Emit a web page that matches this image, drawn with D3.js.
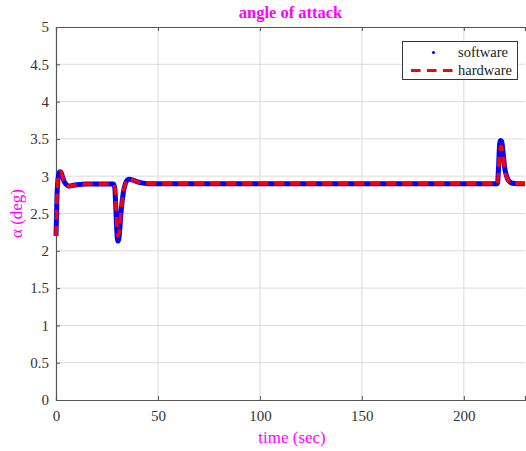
<!DOCTYPE html>
<html><head><meta charset="utf-8">
<script src="https://cdn.jsdelivr.net/npm/d3@7"></script>
<style>body{margin:0;background:#fff;} svg{display:block;}</style>
</head><body>
<svg id="c" width="526" height="451"></svg>
<script>
// ---- data ----
const swTime = [0,0.5,1,1.5,2,2.5,3,4,5,6,7,8,10,12,15,20,25,28,28.8,29.3,29.8,30.3,30.8,31.3,32,33,34,35,36,37,38,40,42,45,50,100,150,200,215,216.5,217,217.5,218,218.5,219,219.5,220,221,222,223,224,226,228,230];
const swAlpha = [2.2,2.75,2.97,3.04,3.06,3.05,3.01,2.93,2.89,2.87,2.87,2.875,2.885,2.89,2.895,2.895,2.895,2.895,2.85,2.6,2.28,2.13,2.16,2.3,2.55,2.78,2.9,2.95,2.96,2.955,2.945,2.925,2.91,2.9,2.9,2.9,2.9,2.9,2.9,2.9,3.1,3.4,3.48,3.47,3.38,3.25,3.12,3.0,2.94,2.915,2.905,2.9,2.9,2.9];
const hwTime = swTime;
const hwAlpha = [2.2,2.75,2.97,3.04,3.06,3.05,3.01,2.93,2.89,2.87,2.87,2.875,2.885,2.89,2.895,2.895,2.895,2.895,2.86,2.65,2.35,2.2,2.22,2.33,2.56,2.78,2.9,2.95,2.96,2.955,2.945,2.925,2.91,2.9,2.9,2.9,2.9,2.9,2.9,2.9,3.05,3.3,3.4,3.39,3.32,3.22,3.1,2.99,2.94,2.915,2.905,2.9,2.9,2.9];
const xTicks = [0,50,100,150,200];
const yTicks = [0,0.5,1,1.5,2,2.5,3,3.5,4,4.5,5];
const seriesNames = ["software","hardware"];
const titleText = "angle of attack";
const xLabel = "time (sec)";
const yLabel = "\u03b1 (deg)";

// ---- layout ----
const L = 56, R = 525, T = 27, B = 400;
const svg = d3.select("#c");
const x = d3.scaleLinear().domain([0,230]).range([L,R]);
const y = d3.scaleLinear().domain([0,5]).range([B,T]);
const font = "'Liberation Serif','Times New Roman',serif";
const magenta = "#ff00ff";

// grid
svg.append("g").selectAll("line").data(xTicks.slice(1)).join("line")
  .attr("x1",d=>x(d)).attr("x2",d=>x(d)).attr("y1",T).attr("y2",B)
  .attr("stroke","#dcdcdc").attr("stroke-width",1);
svg.append("g").selectAll("line").data(yTicks.slice(1,-1)).join("line")
  .attr("x1",L).attr("x2",R).attr("y1",d=>y(d)).attr("y2",d=>y(d))
  .attr("stroke","#dcdcdc").attr("stroke-width",1);

// axes
const axCol = "#555";
const xAx = svg.append("g").attr("transform",`translate(0,${B})`)
  .call(d3.axisBottom(x).tickValues(xTicks).tickSize(-4).tickPadding(10).tickFormat(d3.format("d")));
const xAxTop = svg.append("g").attr("transform",`translate(0,${T})`)
  .call(d3.axisTop(x).tickValues(xTicks).tickSize(-4).tickFormat(""));
const yAx = svg.append("g").attr("transform",`translate(${L},0)`)
  .call(d3.axisLeft(y).tickValues(yTicks).tickSize(-4).tickPadding(7).tickFormat(d=>String(d)));
[xAx,xAxTop,yAx].forEach(g=>{
  g.attr("font-family",font);
  g.select(".domain").attr("stroke",axCol).attr("stroke-width",1.2);
  g.selectAll(".tick line").attr("stroke",axCol);
  g.selectAll("text").attr("font-family",font).attr("font-size",15).attr("fill","#333");
});

// lines
const line = d3.line().curve(d3.curveMonotoneX);
const swPts = swTime.map((t,i)=>[x(t),y(swAlpha[i])]);
const hwPts = hwTime.map((t,i)=>[x(t),y(hwAlpha[i])]);
svg.append("path").attr("d",line(swPts)).attr("fill","none")
  .attr("stroke","#0000ff").attr("stroke-width",5).attr("stroke-linejoin","round");
svg.append("path").attr("d",line(hwPts)).attr("fill","none")
  .attr("stroke","#ff0000").attr("stroke-width",3.5).attr("stroke-dasharray","10,6");

// legend
const lg = svg.append("g");
lg.append("rect").attr("x",402.5).attr("y",41.5).attr("width",115).attr("height",38)
  .attr("fill","#fff").attr("stroke","#333").attr("stroke-width",1);
lg.append("circle").attr("cx",433.5).attr("cy",52.5).attr("r",1.6).attr("fill","#0000ff");
lg.append("line").attr("x1",411).attr("x2",456).attr("y1",70.5).attr("y2",70.5)
  .attr("stroke","#ff0000").attr("stroke-width",3).attr("stroke-dasharray","9.5,6.5");
lg.selectAll("text").data(seriesNames).join("text")
  .attr("x",458).attr("y",(d,i)=>57+i*18)
  .attr("font-family",font).attr("font-size",14.5).attr("fill","#222").text(d=>d);

// labels
svg.append("text").attr("x",(L+R)/2).attr("y",18).attr("text-anchor","middle")
  .attr("font-family",font).attr("font-weight","bold").attr("font-size",16.5)
  .attr("fill",magenta).text(titleText);
svg.append("text").attr("x",292).attr("y",443).attr("text-anchor","middle")
  .attr("font-family",font).attr("font-size",17).attr("fill",magenta).text(xLabel);
svg.append("text").attr("transform",`translate(22,${(T+B)/2}) rotate(-90)`).attr("text-anchor","middle")
  .attr("font-family",font).attr("font-size",17).attr("fill",magenta).text(yLabel);
</script>
</body></html>
